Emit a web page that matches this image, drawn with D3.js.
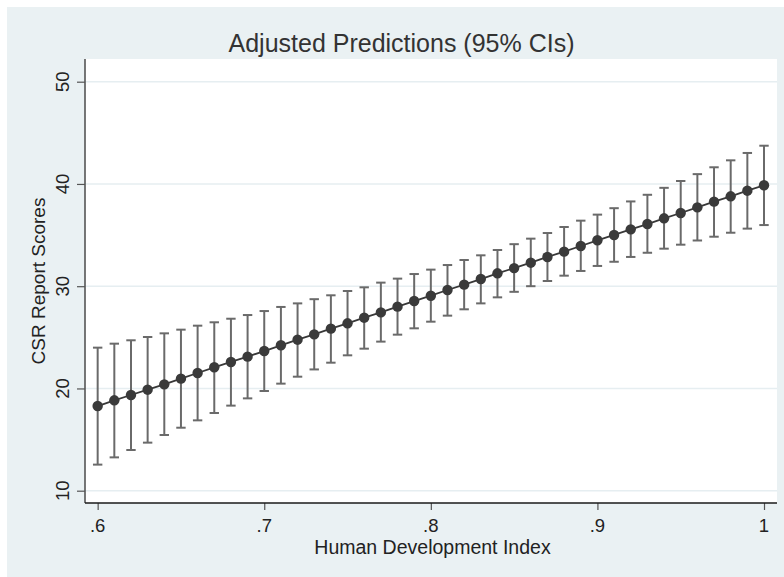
<!DOCTYPE html>
<html>
<head>
<meta charset="utf-8">
<script src="https://cdn.jsdelivr.net/npm/d3@7"></script>
<style>
  html, body { margin: 0; padding: 0; background: #ffffff; }
  svg { display: block; }
  text { font-family: "Liberation Sans", Arial, Helvetica, sans-serif; fill: #222; }
</style>
</head>
<body>
<svg id="chart" width="784" height="577"></svg>
<script>
// ---- data ----
const hdi = [0.60,0.61,0.62,0.63,0.64,0.65,0.66,0.67,0.68,0.69,0.70,0.71,0.72,0.73,0.74,0.75,0.76,0.77,0.78,0.79,0.80,0.81,0.82,0.83,0.84,0.85,0.86,0.87,0.88,0.89,0.90,0.91,0.92,0.93,0.94,0.95,0.96,0.97,0.98,0.99,1.00];
const predicted = [18.28,18.84,19.36,19.88,20.40,20.96,21.51,22.07,22.59,23.11,23.66,24.22,24.77,25.29,25.85,26.37,26.92,27.44,28.00,28.55,29.07,29.63,30.15,30.70,31.26,31.77,32.30,32.86,33.38,33.93,34.49,35.01,35.56,36.08,36.64,37.16,37.71,38.27,38.79,39.34,39.87];
const upperCI = [23.99,24.38,24.71,25.03,25.39,25.75,26.14,26.47,26.82,27.18,27.57,27.97,28.32,28.73,29.11,29.53,29.89,30.35,30.74,31.19,31.62,32.07,32.56,33.02,33.54,34.11,34.65,35.20,35.79,36.41,37.00,37.63,38.29,38.94,39.62,40.29,40.96,41.63,42.31,43.03,43.74];
const lowerCI = [12.55,13.26,13.98,14.70,15.45,16.16,16.88,17.60,18.32,19.03,19.75,20.47,21.15,21.86,22.52,23.24,23.89,24.58,25.26,25.88,26.53,27.12,27.74,28.32,28.91,29.45,30.00,30.51,31.03,31.49,31.98,32.39,32.86,33.27,33.67,34.06,34.47,34.84,35.23,35.63,35.98];
const xTicks = [0.6, 0.7, 0.8, 0.9, 1.0];
const xTickLabels = [".6", ".7", ".8", ".9", "1"];
const yTicks = [10, 20, 30, 40, 50];
const yTickLabels = ["10", "20", "30", "40", "50"];
const titleText = "Adjusted Predictions (95% CIs)";
const xTitle = "Human Development Index";
const yTitle = "CSR Report Scores";

// ---- layout ----
const W = 784, H = 577;
const plot = { left: 85, right: 777, top: 59, bottom: 503 };

const svg = d3.select("#chart");

// outer graph region
svg.append("rect")
  .attr("x", 7).attr("y", 7)
  .attr("width", W - 7).attr("height", H - 7)
  .attr("fill", "#eaf1f3");

// plot region
svg.append("rect")
  .attr("x", plot.left).attr("y", plot.top)
  .attr("width", plot.right - plot.left).attr("height", plot.bottom - plot.top)
  .attr("fill", "#ffffff");

const x = d3.scaleLinear()
  .domain([0.5924, 1.0078])
  .range([plot.left, plot.right]);
const y = d3.scaleLinear()
  .domain([8.797, 52.22])
  .range([plot.bottom, plot.top]);

// gridlines
svg.append("g").selectAll("line")
  .data(yTicks)
  .join("line")
  .attr("x1", plot.left).attr("x2", plot.right)
  .attr("y1", d => y(d)).attr("y2", d => y(d))
  .attr("stroke", "#e6eef1")
  .attr("stroke-width", 1.6);

// y axis
const yAxis = d3.axisLeft(y)
  .tickValues(yTicks)
  .tickFormat((d, i) => yTickLabels[i])
  .tickSize(8)
  .tickPadding(0);
const gy = svg.append("g")
  .attr("transform", `translate(${plot.left},0)`)
  .call(yAxis);
gy.select(".domain").remove();
gy.selectAll(".tick line").attr("stroke", "#555").attr("stroke-width", 1.2);
gy.selectAll(".tick text").remove();
svg.append("line")
  .attr("x1", plot.left).attr("x2", plot.left)
  .attr("y1", plot.top).attr("y2", plot.bottom)
  .attr("stroke", "#555").attr("stroke-width", 1.6);
svg.append("g").selectAll("text")
  .data(yTicks)
  .join("text")
  .attr("transform", d => `translate(62.5,${y(d)}) rotate(-90)`)
  .attr("text-anchor", "middle")
  .attr("dy", "0.35em")
  .style("font-size", "18.5px")
  .text((d, i) => yTickLabels[i]);

// x axis
const xAxis = d3.axisBottom(x)
  .tickValues(xTicks)
  .tickFormat((d, i) => xTickLabels[i])
  .tickSize(7)
  .tickPadding(0);
const gx = svg.append("g")
  .attr("transform", `translate(0,${plot.bottom})`)
  .call(xAxis);
gx.select(".domain").remove();
gx.selectAll(".tick line").attr("stroke", "#555").attr("stroke-width", 1.2);
gx.selectAll(".tick text").remove();
svg.append("line")
  .attr("x1", plot.left).attr("x2", plot.right)
  .attr("y1", plot.bottom).attr("y2", plot.bottom)
  .attr("stroke", "#1a1a1a").attr("stroke-width", 1.6);
svg.append("g").selectAll("text")
  .data(xTicks)
  .join("text")
  .attr("x", d => x(d))
  .attr("y", 532)
  .attr("text-anchor", "middle")
  .style("font-size", "18.5px")
  .text((d, i) => xTickLabels[i]);

// error bars
const rows = hdi.map((h, i) => ({ h, p: predicted[i], lo: lowerCI[i], hi: upperCI[i] }));
const eb = svg.append("g").attr("stroke", "#6a6a6a").attr("stroke-width", 2).attr("fill", "none");
eb.selectAll("line.v").data(rows).join("line").attr("class", "v")
  .attr("x1", d => x(d.h)).attr("x2", d => x(d.h))
  .attr("y1", d => y(d.lo)).attr("y2", d => y(d.hi));
eb.selectAll("line.t").data(rows).join("line").attr("class", "t")
  .attr("x1", d => x(d.h) - 4.7).attr("x2", d => x(d.h) + 4.7)
  .attr("y1", d => y(d.hi)).attr("y2", d => y(d.hi));
eb.selectAll("line.b").data(rows).join("line").attr("class", "b")
  .attr("x1", d => x(d.h) - 4.7).attr("x2", d => x(d.h) + 4.7)
  .attr("y1", d => y(d.lo)).attr("y2", d => y(d.lo));

// connecting line
svg.append("path")
  .datum(rows)
  .attr("fill", "none")
  .attr("stroke", "#383838")
  .attr("stroke-width", 1.8)
  .attr("d", d3.line().x(d => x(d.h)).y(d => y(d.p)));

// markers
svg.append("g").selectAll("circle")
  .data(rows)
  .join("circle")
  .attr("cx", d => x(d.h))
  .attr("cy", d => y(d.p))
  .attr("r", 5.2)
  .attr("fill", "#3a3a3a");

// titles
svg.append("text")
  .attr("x", 401.5).attr("y", 52)
  .attr("text-anchor", "middle")
  .style("font-size", "25px")
  .style("fill", "#333")
  .text(titleText);

svg.append("text")
  .attr("x", 432.5).attr("y", 554)
  .attr("text-anchor", "middle")
  .style("font-size", "19.5px")
  .text(xTitle);

svg.append("text")
  .attr("transform", `translate(38,${(plot.top + plot.bottom) / 2}) rotate(-90)`)
  .attr("text-anchor", "middle")
  .attr("dy", "0.35em")
  .style("font-size", "19px")
  .text(yTitle);
</script>
</body>
</html>
